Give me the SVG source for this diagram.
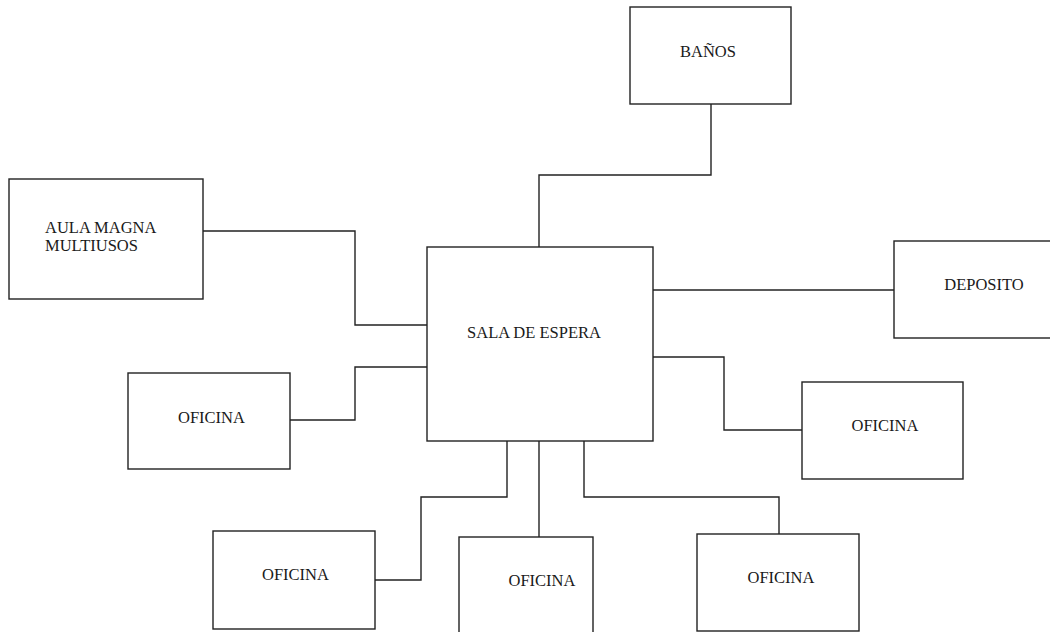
<svg xmlns="http://www.w3.org/2000/svg" width="1050" height="632" viewBox="0 0 1050 632">
<style>
.box{fill:#fff;stroke:#222;stroke-width:1.4}
.con{fill:none;stroke:#222;stroke-width:1.4}
.lbl{font-family:'Liberation Serif','Times New Roman',serif;font-size:16.5px;fill:#1a1a1a}
.c{text-anchor:middle}
</style>
<rect width="1050" height="632" fill="#fff"/>
<g id="connectors">
<polyline class="con" points="711,104 711,175 539,175 539,247"/>
<polyline class="con" points="203,231 355,231 355,325 427,325"/>
<polyline class="con" points="290,420 355,420 355,367 427,367"/>
<polyline class="con" points="653,290 894,290"/>
<polyline class="con" points="653,357 724,357 724,430 802,430"/>
<polyline class="con" points="375,580 421,580 421,497 507,497 507,441"/>
<polyline class="con" points="539,441 539,537"/>
<polyline class="con" points="584,441 584,497 779,497 779,534"/>
</g>
<g font-family="Liberation Serif, serif">
<g id="banos"><rect class="box" x="630" y="7" width="161" height="97"/><text class="lbl c" x="708" y="57">BAÑOS</text></g>
<g id="aula"><rect class="box" x="9" y="179" width="194" height="120"/><text class="lbl" x="45" y="233">AULA MAGNA</text><text class="lbl" x="45" y="251">MULTIUSOS</text></g>
<g id="sala"><rect class="box" x="427" y="247" width="226" height="194"/><text class="lbl c" x="534" y="338">SALA DE ESPERA</text></g>
<g id="deposito"><rect class="box" x="894" y="241" width="165" height="97"/><text class="lbl c" x="984" y="290">DEPOSITO</text></g>
<g id="oficina1"><rect class="box" x="128" y="373" width="162" height="96"/><text class="lbl c" x="211.5" y="423">OFICINA</text></g>
<g id="oficina2"><rect class="box" x="802" y="382" width="161" height="97"/><text class="lbl c" x="885" y="431">OFICINA</text></g>
<g id="oficina3"><rect class="box" x="213" y="531" width="162" height="98"/><text class="lbl c" x="295.5" y="580">OFICINA</text></g>
<g id="oficina4"><rect class="box" x="459" y="537" width="134" height="105"/><text class="lbl c" x="542" y="586">OFICINA</text></g>
<g id="oficina5"><rect class="box" x="697" y="534" width="162" height="97"/><text class="lbl c" x="781" y="583">OFICINA</text></g>
</g>
</svg>
